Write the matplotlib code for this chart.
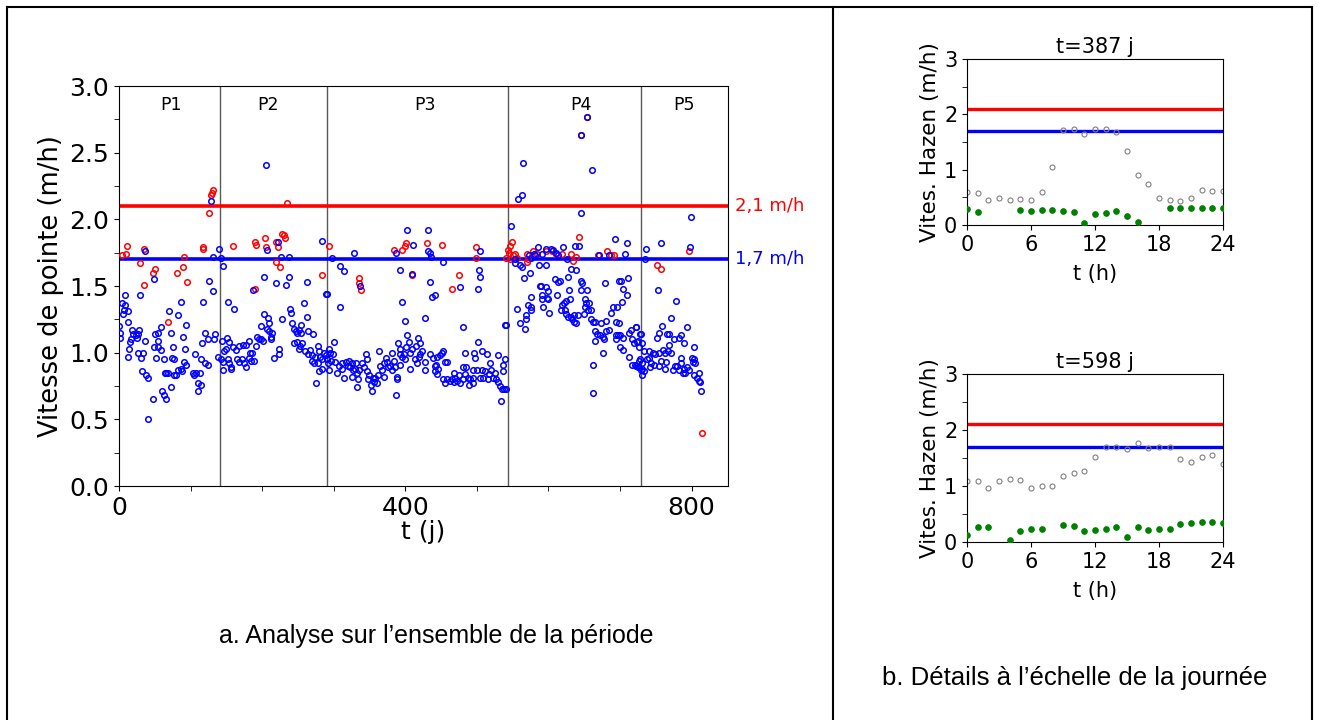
import numpy as np
import matplotlib
matplotlib.use("Agg")
import matplotlib.pyplot as plt
from matplotlib.lines import Line2D
from matplotlib.ticker import MultipleLocator

## Vitesse de pointe journaliere (t en jours, v en m/h)
p1_blue = [(36, 1.76), (128, 2.14), (140, 1.78), (131, 1.72), (142, 1.71), (145, 1.65), (49, 1.55), (126, 1.54),
           (132, 1.46), (29, 1.43), (8, 1.43), (4, 1.37), (8, 1.36), (5, 1.29), (7, 1.32), (12, 1.31), (13, 1.23),
           (87, 1.38), (118, 1.38), (70, 1.31), (83, 1.28), (94, 1.21), (0, 1.20), (2, 1.15), (2, 1.11), (18, 1.17),
           (19, 1.14), (17, 1.10), (15, 1.08), (14, 1.03), (13, 0.97), (28, 1.17), (27, 1.14), (24, 1.13), (25, 1.11),
           (37, 1.09), (26, 1.00), (34, 1.00), (31, 0.96), (32, 0.86), (38, 0.83), (40, 0.81), (47, 0.65), (40, 0.50),
           (58, 1.19), (55, 1.15), (51, 1.14), (54, 1.09), (49, 1.04), (55, 1.04), (59, 1.02), (52, 0.96), (63, 0.95),
           (72, 1.15), (76, 1.04), (74, 0.96), (77, 0.95), (64, 0.85), (66, 0.85), (68, 0.85), (60, 0.71), (63, 0.68),
           (66, 0.65), (73, 0.74), (77, 0.83), (80, 0.83), (83, 0.87), (86, 0.88), (88, 0.86), (91, 0.93), (93, 0.91),
           (89, 1.12), (92, 1.03), (106, 0.99), (114, 0.95), (103, 0.85), (105, 0.83), (108, 0.85), (110, 0.77),
           (111, 0.71), (115, 0.76), (113, 0.85), (120, 0.92), (124, 0.91), (116, 1.07), (120, 1.15), (124, 1.10),
           (134, 1.14), (133, 1.10), (138, 0.97)]
p1_red = [(11, 1.80), (4, 1.73), (10, 1.74), (30, 1.67), (35, 1.78), (35, 1.51), (48, 1.60), (51, 1.63), (69, 1.23),
          (81, 1.60), (89, 1.64), (91, 1.72), (95, 1.53), (117, 1.78), (118, 1.79), (126, 2.05), (128, 2.18),
          (130, 2.20), (131, 2.22)]

p2_blue = [(206, 2.41), (222, 1.83), (207, 1.77), (226, 1.72), (237, 1.72), (284, 1.84), (203, 1.57), (220, 1.52),
           (233, 1.51), (237, 1.57), (263, 1.53), (187, 1.47), (289, 1.44), (153, 1.38), (161, 1.33), (258, 1.37),
           (263, 1.27), (202, 1.29), (228, 1.25), (208, 1.26), (210, 1.22), (198, 1.20), (207, 1.18), (239, 1.33),
           (240, 1.30), (242, 1.22), (244, 1.18), (248, 1.16), (252, 1.17), (255, 1.21), (249, 1.15), (255, 1.15),
           (264, 1.16), (271, 1.14), (209, 1.16), (212, 1.12), (214, 1.15), (213, 1.10), (193, 1.12), (196, 1.10),
           (199, 1.10), (201, 1.09), (192, 1.05), (181, 1.09), (177, 1.06), (173, 1.06), (167, 1.05), (163, 1.02),
           (159, 1.04), (154, 1.08), (151, 1.11), (149, 1.03), (147, 1.01), (144, 1.09), (143, 0.95), (146, 0.93),
           (146, 0.87), (152, 0.95), (154, 0.92), (157, 0.89), (156, 0.88), (165, 0.95), (167, 0.93), (172, 0.95),
           (175, 0.92), (177, 0.89), (183, 1.00), (181, 0.96), (185, 0.94), (189, 0.94), (186, 1.00), (217, 0.96),
           (224, 0.99), (224, 1.03), (245, 1.07), (249, 1.08), (256, 1.07), (253, 1.05), (251, 1.03), (260, 1.01),
           (264, 0.99), (267, 1.02), (270, 0.98), (269, 0.94), (272, 0.92), (274, 0.97), (278, 1.05), (280, 1.01),
           (281, 0.97), (283, 0.95), (278, 0.92), (279, 0.86), (283, 0.88), (287, 1.00), (289, 0.98), (275, 0.77)]
p2_red = [(159, 1.80), (190, 1.83), (192, 1.81), (204, 1.86), (205, 1.79), (219, 1.83), (222, 1.79), (219, 1.68),
          (225, 1.64), (228, 1.89), (230, 1.88), (232, 1.86), (235, 2.12), (190, 1.48), (283, 1.58), (294, 1.80)]

p3_blue = [(297, 1.71), (291, 1.44), (328, 1.75), (309, 1.65), (315, 1.61), (337, 1.50), (309, 1.34), (387, 1.75),
           (402, 1.92), (411, 1.81), (392, 1.62), (410, 1.59), (396, 1.38), (399, 1.24), (432, 1.92), (432, 1.76),
           (434, 1.75), (436, 1.72), (435, 1.53), (437, 1.42), (441, 1.43), (428, 1.26), (403, 1.13), (405, 1.08),
           (401, 1.04), (390, 1.07), (392, 1.03), (393, 0.99), (398, 0.99), (400, 0.95), (407, 1.00), (409, 1.03),
           (415, 1.05), (418, 1.11), (421, 1.07), (424, 1.01), (420, 0.99), (427, 0.93), (419, 0.97), (413, 0.95),
           (407, 0.88), (417, 0.92), (427, 0.87), (434, 0.99), (439, 0.96), (387, 0.68), (388, 0.82),
           (300, 1.08), (293, 1.03), (295, 1.00), (290, 0.95), (296, 0.94), (299, 0.99), (302, 0.93), (307, 0.90),
           (305, 0.85), (311, 0.92), (311, 0.88), (314, 0.81), (317, 0.93), (320, 0.90), (322, 0.94), (323, 0.89),
           (325, 0.92), (327, 0.87), (325, 0.82), (331, 0.92), (330, 0.88), (333, 0.85), (334, 0.80), (332, 0.74),
           (336, 0.87), (339, 0.92), (342, 0.89), (345, 0.99), (347, 0.95), (346, 0.86), (348, 0.80), (350, 0.83),
           (352, 0.76), (355, 0.81), (356, 0.78), (358, 0.81), (360, 0.77), (362, 0.83), (364, 1.01), (365, 0.90),
           (368, 0.87), (370, 0.92), (371, 0.82), (373, 0.96), (375, 0.93), (376, 0.89), (379, 0.90), (381, 0.87),
           (384, 0.94), (386, 0.89), (354, 0.71), (389, 0.80), (393, 0.91), (396, 0.97), (381, 1.00), (292, 0.92),
           (294, 0.87), (453, 1.68), (504, 1.76), (503, 1.62), (505, 1.57), (501, 1.48), (476, 1.49), (481, 1.19),
           (541, 1.21), (502, 1.08), (483, 1.00), (496, 1.00), (507, 1.01), (514, 0.99), (497, 0.96), (530, 0.98),
           (539, 0.95), (519, 0.92), (536, 0.91), (536, 0.86), (453, 1.01), (452, 1.00), (449, 0.98), (444, 0.97),
           (442, 0.90), (455, 0.93), (458, 0.93), (443, 0.91), (446, 0.88), (442, 0.86), (445, 0.84), (453, 0.80),
           (456, 0.77), (459, 0.80), (462, 0.79), (465, 0.80), (468, 0.85), (468, 0.78), (470, 0.81), (473, 0.79),
           (475, 0.83), (477, 0.77), (480, 0.80), (480, 0.89), (483, 0.84), (485, 0.89), (487, 0.81), (489, 0.76),
           (491, 0.80), (494, 0.77), (495, 0.87), (495, 0.81), (507, 0.87), (509, 0.81), (512, 0.86), (515, 0.80),
           (517, 0.84), (520, 0.87), (522, 0.81), (525, 0.85), (527, 0.80), (530, 0.78), (532, 0.75), (535, 0.73),
           (538, 0.73), (541, 0.73), (534, 0.64), (500, 0.87), (504, 0.81)]
p3_red = [(336, 1.56), (336, 1.52), (338, 1.47), (384, 1.77), (395, 1.77), (399, 1.80), (401, 1.82), (409, 1.58),
          (430, 1.82), (451, 1.81), (475, 1.58), (466, 1.48), (499, 1.79), (499, 1.71)]

p4_blue = [(548, 1.95), (557, 2.15), (563, 2.18), (565, 2.42), (553, 1.70), (588, 1.50), (576, 1.32), (573, 1.73),
           (582, 1.73), (576, 1.71), (654, 2.77), (646, 2.63), (661, 2.37), (645, 2.05), (693, 1.85), (710, 1.82),
           (637, 1.80), (643, 1.80), (621, 1.79), (586, 1.79), (597, 1.78), (603, 1.78), (607, 1.77), (610, 1.75),
           (580, 1.74), (591, 1.74), (614, 1.73), (626, 1.70), (671, 1.73), (685, 1.73), (707, 1.74), (554, 1.67),
           (560, 1.66), (563, 1.64), (587, 1.66), (596, 1.66), (632, 1.63), (638, 1.62), (628, 1.57), (575, 1.60),
           (566, 1.56), (609, 1.55), (613, 1.53), (616, 1.54), (646, 1.54), (647, 1.52), (646, 1.47), (654, 1.47),
           (679, 1.52), (698, 1.54), (701, 1.54), (711, 1.56), (704, 1.48), (710, 1.43), (703, 1.38), (589, 1.50),
           (597, 1.49), (591, 1.43), (599, 1.46), (598, 1.41), (629, 1.47), (612, 1.43), (576, 1.42), (591, 1.40),
           (600, 1.40), (630, 1.40), (651, 1.40), (624, 1.39), (622, 1.37), (619, 1.36), (652, 1.37), (657, 1.37),
           (651, 1.34), (659, 1.32), (623, 1.32), (617, 1.32), (572, 1.36), (576, 1.34), (593, 1.34), (601, 1.30),
           (556, 1.33), (569, 1.28), (561, 1.22), (567, 1.18), (569, 1.25), (625, 1.29), (631, 1.27), (636, 1.28),
           (642, 1.28), (650, 1.29), (655, 1.32), (659, 1.25), (663, 1.23), (665, 1.23), (673, 1.22), (680, 1.24),
           (688, 1.30), (691, 1.34), (696, 1.34), (694, 1.23), (698, 1.22), (628, 1.27), (633, 1.25), (636, 1.23),
           (639, 1.22), (665, 1.16), (668, 1.14), (665, 1.09), (672, 1.13), (676, 1.12), (678, 1.10), (685, 1.17),
           (681, 1.16), (694, 1.13), (697, 1.13), (700, 1.13), (694, 1.10), (704, 1.11), (700, 1.04), (704, 1.02),
           (712, 1.15), (716, 1.17), (722, 1.19), (728, 1.14), (717, 1.10), (720, 1.07), (725, 1.09), (713, 0.97),
           (717, 0.91), (721, 0.91), (726, 0.89), (731, 0.88), (728, 0.95), (731, 0.92), (676, 1.00), (662, 0.91),
           (663, 0.70), (540, 1.21)]
p4_red = [(654, 2.77), (646, 2.63), (643, 1.87), (543, 1.77), (547, 1.80), (549, 1.83), (545, 1.75), (551, 1.73),
          (541, 1.71), (556, 1.71), (546, 1.70), (554, 1.74), (570, 1.74), (572, 1.70), (579, 1.76), (584, 1.74),
          (597, 1.76), (605, 1.76), (611, 1.74), (619, 1.74), (631, 1.74), (639, 1.72), (635, 1.69), (669, 1.73),
          (682, 1.76), (688, 1.73), (692, 1.73), (570, 1.68)]

p5_blue = [(799, 2.02), (798, 1.79), (758, 1.82), (737, 1.78), (735, 1.70), (753, 1.47), (778, 1.39), (772, 1.26),
           (759, 1.20), (794, 1.19), (755, 1.15), (752, 1.11), (766, 1.14), (769, 1.14), (785, 1.13), (782, 1.11),
           (776, 1.10), (768, 1.06), (789, 1.07), (804, 1.04), (723, 1.19), (729, 1.14), (731, 1.07), (724, 1.08),
           (726, 1.04), (733, 1.01), (741, 1.01), (746, 1.00), (749, 0.99), (755, 1.00), (760, 1.02), (763, 1.00),
           (767, 1.01), (771, 1.00), (740, 0.96), (738, 0.95), (727, 0.94), (723, 0.90), (725, 0.89), (730, 0.87),
           (731, 0.83), (734, 0.86), (742, 0.89), (744, 0.92), (748, 0.91), (754, 0.90), (758, 0.94), (763, 0.88),
           (764, 0.93), (777, 0.90), (774, 0.87), (780, 0.90), (782, 0.87), (785, 0.96), (786, 0.92), (788, 0.85),
           (790, 0.88), (791, 0.85), (794, 0.89), (796, 0.87), (800, 0.96), (802, 0.93), (804, 0.95), (805, 0.92),
           (804, 0.83), (808, 0.81), (810, 0.79), (812, 0.78), (810, 0.85), (813, 0.71)]
p5_red = [(752, 1.66), (757, 1.63), (797, 1.76), (814, 0.40)]

## Periodes et seuils
period_bounds = [141, 291, 544, 730]
period_names = ["P1", "P2", "P3", "P4", "P5"]
period_centers = [72, 208, 427, 646, 789]
seuil_haut = 2.1
seuil_bas = 1.7

## Profils horaires de deux journees (nan = pas de mesure)
hours = list(range(25))
j387_vit = [0.60, 0.58, 0.46, 0.49, 0.46, 0.47, 0.46, 0.60, 1.05, 1.72, 1.74, 1.65, 1.74, 1.74, 1.68, 1.33,
            0.90, 0.75, 0.48, 0.45, 0.43, 0.48, 0.64, 0.62, 0.62]
j387_green = [0.29, 0.24, np.nan, np.nan, np.nan, 0.28, 0.26, 0.28, 0.28, 0.25, 0.24, 0.03, 0.20, 0.22, 0.26,
              0.17, 0.05, np.nan, np.nan, 0.30, 0.30, 0.30, 0.30, 0.30, 0.30]
j598_vit = [1.09, 1.09, 0.97, 1.09, 1.12, 1.10, 0.97, 1.00, 1.00, 1.17, 1.23, 1.26, 1.52, 1.70, 1.70, 1.66,
            1.77, 1.67, 1.69, 1.69, 1.48, 1.42, 1.51, 1.55, 1.40]
j598_green = [0.13, 0.26, 0.26, np.nan, 0.04, 0.20, 0.23, 0.24, np.nan, 0.31, 0.29, 0.20, 0.22, 0.23, 0.26,
              0.09, 0.27, 0.22, 0.23, 0.23, 0.32, 0.34, 0.35, 0.36, 0.34]

W, H = 1319, 720
fig = plt.figure(figsize=(W / 100, H / 100), dpi=100)

## Cadre du tableau
for xy in [([7, 1312], [7, 7]), ([7, 7], [7, 720]), ([833, 833], [7, 720]), ([1312, 1312], [7, 720])]:
    fig.add_artist(Line2D([x / W for x in xy[0]], [1 - y / H for y in xy[1]], color="black", lw=1.5))

## Graphe principal
ax = fig.add_axes([119 / W, 1 - 486 / H, 609 / W, 400 / H])
red_pts = np.array(p1_red + p2_red + p3_red + p4_red + p5_red)
blue_pts = np.array(p1_blue + p2_blue + p3_blue + p4_blue + p5_blue)
ax.plot(red_pts[:, 0], red_pts[:, 1], "o", mfc="none", mec="red", ms=4, mew=1.1, zorder=3)
ax.plot(blue_pts[:, 0], blue_pts[:, 1], "o", mfc="none", mec="blue", ms=4, mew=1.1, zorder=4)
ax.axhline(seuil_haut, color="red", lw=2.6, zorder=2)
ax.axhline(seuil_bas, color="blue", lw=2.6, zorder=2)
for b in period_bounds:
    ax.axvline(b, color="0.35", lw=1, zorder=1)
for name, c in zip(period_names, period_centers):
    ax.text(c, 2.86, name, ha="center", va="center", fontsize=12.5)
ax.text(861, seuil_haut, "2,1 m/h", color="red", fontsize=13, va="center", ha="left", clip_on=False)
ax.text(861, seuil_bas, "1,7 m/h", color="blue", fontsize=13, va="center", ha="left", clip_on=False)
ax.set_xlim(0, 851)
ax.set_ylim(0, 3)
ax.set_xticks([0, 400, 800])
ax.xaxis.set_minor_locator(MultipleLocator(100))
ax.yaxis.set_major_locator(MultipleLocator(0.5))
ax.yaxis.set_minor_locator(MultipleLocator(0.25))
ax.tick_params(which="both", length=3.5, labelsize=18)
ax.yaxis.set_major_formatter(plt.FormatStrFormatter("%.1f"))
ax.set_xlabel("t (j)", fontsize=18, labelpad=0)
ax.set_ylabel("Vitesse de pointe (m/h)", fontsize=18.5, labelpad=4)

## Details journaliers
for bottom, top, title, vit, green in [(225, 59, "t=387 j", j387_vit, j387_green),
                                        (542, 374, "t=598 j", j598_vit, j598_green)]:
    a = fig.add_axes([967 / W, 1 - bottom / H, 256 / W, (bottom - top) / H])
    a.axhline(seuil_haut, color="red", lw=2.4, zorder=1)
    a.axhline(seuil_bas, color="blue", lw=2.4, zorder=1)
    a.plot(hours, vit, "o", mfc="none", mec="0.5", ms=3.6, mew=0.8, zorder=2)
    a.plot(hours, green, "o", color="green", ms=3.8, zorder=3)
    a.set_xlim(0, 24)
    a.set_ylim(0, 3)
    a.set_xticks([0, 6, 12, 18, 24])
    a.set_yticks([0, 1, 2, 3])
    a.yaxis.set_minor_locator(MultipleLocator(0.5))
    a.tick_params(which="both", length=3.5, labelsize=15)
    a.set_title(title, fontsize=15, pad=4)
    a.set_xlabel("t (h)", fontsize=15, labelpad=7)
    a.set_ylabel("Vites. Hazen (m/h)", fontsize=15.5, labelpad=3)

## Legendes des cellules
fig.text(436 / W, 1 - 636 / H, "a. Analyse sur l\u2019ensemble de la p\u00e9riode",
         ha="center", va="center", fontsize=18, family="Liberation Sans")
fig.text(1075 / W, 1 - 678 / H, "b. D\u00e9tails \u00e0 l\u2019\u00e9chelle de la journ\u00e9e",
         ha="center", va="center", fontsize=18.5, family="Liberation Sans")

fig.savefig("out.png", dpi=100)
